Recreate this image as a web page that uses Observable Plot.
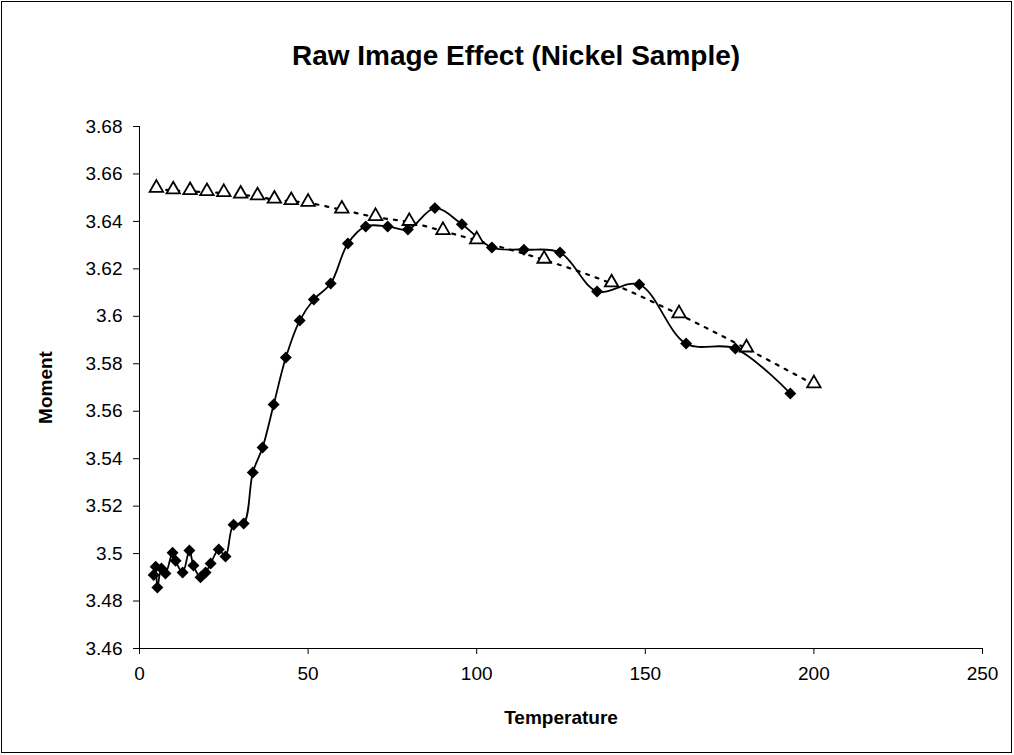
<!DOCTYPE html>
<html><head><meta charset="utf-8">
<script src="https://cdn.jsdelivr.net/npm/d3@7"></script>
<script src="https://cdn.jsdelivr.net/npm/@observablehq/plot@0.6"></script>
<style>body{margin:0;background:#fff;} svg{display:block;}</style>
</head><body><div id="chart"></div>
<script>
const titleText = "Raw Image Effect (Nickel Sample)";
const xLabel = "Temperature";
const yLabel = "Moment";
const xTicks = [0, 50, 100, 150, 200, 250];
const yTicks = [3.46, 3.48, 3.5, 3.52, 3.54, 3.56, 3.58, 3.6, 3.62, 3.64, 3.66, 3.68];

// Series 1: filled diamonds, solid smoothed line
const diamondT = [4.2, 4.8, 5.3, 6.5, 7.7, 9.8, 10.7, 12.8, 14.8, 16.0, 18.1, 19.6, 21.1, 23.5, 25.5, 27.9, 30.9, 33.6, 36.5, 39.8, 43.4, 47.5, 51.7, 56.7, 61.8, 67.1, 73.6, 79.6, 87.6, 95.6, 104.5, 114.0, 124.7, 135.7, 148.2, 162.1, 176.7, 193.0];
const diamondM = [3.491, 3.4945, 3.4857, 3.4937, 3.4916, 3.5004, 3.497, 3.492, 3.5013, 3.495, 3.490, 3.492, 3.4958, 3.5017, 3.4988, 3.5122, 3.5127, 3.5342, 3.5447, 3.5628, 3.5826, 3.5982, 3.6071, 3.6138, 3.6307, 3.6379, 3.6379, 3.6366, 3.6456, 3.6388, 3.629, 3.6281, 3.6269, 3.6105, 3.6134, 3.5885, 3.5864, 3.5675];

// Series 2: open triangles, dotted smoothed line
const triT = [5, 10, 15, 20, 25, 30, 35, 40, 45, 50, 60, 70, 80, 90, 100, 120, 140, 160, 180, 200];
const triM = [3.6537, 3.6530, 3.6527, 3.6523, 3.6519, 3.6512, 3.6505, 3.6491, 3.6485, 3.6478, 3.6449, 3.6418, 3.6397, 3.6359, 3.632, 3.6238, 3.6138, 3.6008, 3.5864, 3.5713];

const diamonds = diamondT.map((t, i) => ({t, m: diamondM[i]}));
const triangles = triT.map((t, i) => ({t, m: triM[i]}));

const font = "'Liberation Sans', Arial, sans-serif";

const chart = Plot.plot({
  width: 1014,
  height: 755,
  marginLeft: 139,
  marginRight: 32,
  marginTop: 126,
  marginBottom: 107,
  style: {fontFamily: font, background: "#fff", color: "#000", overflow: "visible"},
  x: {domain: [0, 250]},
  y: {domain: [3.46, 3.68]},
  marks: [
    Plot.ruleY([3.46], {stroke: "#000", strokeWidth: 1}),
    Plot.ruleX([0], {stroke: "#000", strokeWidth: 1}),
    Plot.axisX({ticks: xTicks, tickSize: 6, tickPadding: 12, fontSize: 19, label: null, tickFormat: d => String(d)}),
    Plot.axisY({ticks: yTicks, tickSize: 6, tickPadding: 11, fontSize: 19, label: null, tickFormat: d => String(+d.toFixed(2))}),
    Plot.line(diamonds, {x: "t", y: "m", curve: "catmull-rom", stroke: "#000", strokeWidth: 1.8}),
    Plot.dot(diamonds, {x: "t", y: "m", symbol: "diamond2", r: 5.4, fill: "#000", stroke: "none"}),
    Plot.line(triangles, {x: "t", y: "m", curve: "catmull-rom", stroke: "#000", strokeWidth: 2.2, strokeDasharray: "3,7"}),
    Plot.dot(triangles, {x: "t", y: "m", symbol: "triangle", r: 5, dy: -1, fill: "#fff", stroke: "#000", strokeWidth: 1.8}),
    Plot.text([titleText], {frameAnchor: "top", dx: -45, dy: -70, lineAnchor: "middle", textAnchor: "middle", fontSize: 28, fontWeight: "bold"}),
    Plot.text([xLabel], {frameAnchor: "bottom", dy: 69, lineAnchor: "middle", textAnchor: "middle", fontSize: 19, fontWeight: "bold"}),
    Plot.text([yLabel], {frameAnchor: "left", dx: -94, rotate: -90, lineAnchor: "middle", textAnchor: "middle", fontSize: 19, fontWeight: "bold"})
  ]
});

d3.select(chart).append("rect")
  .attr("x", 1.5).attr("y", 1.5).attr("width", 1010).attr("height", 751)
  .attr("fill", "none").attr("stroke", "#000").attr("stroke-width", 1);

document.getElementById("chart").appendChild(chart);
</script>
</body></html>
